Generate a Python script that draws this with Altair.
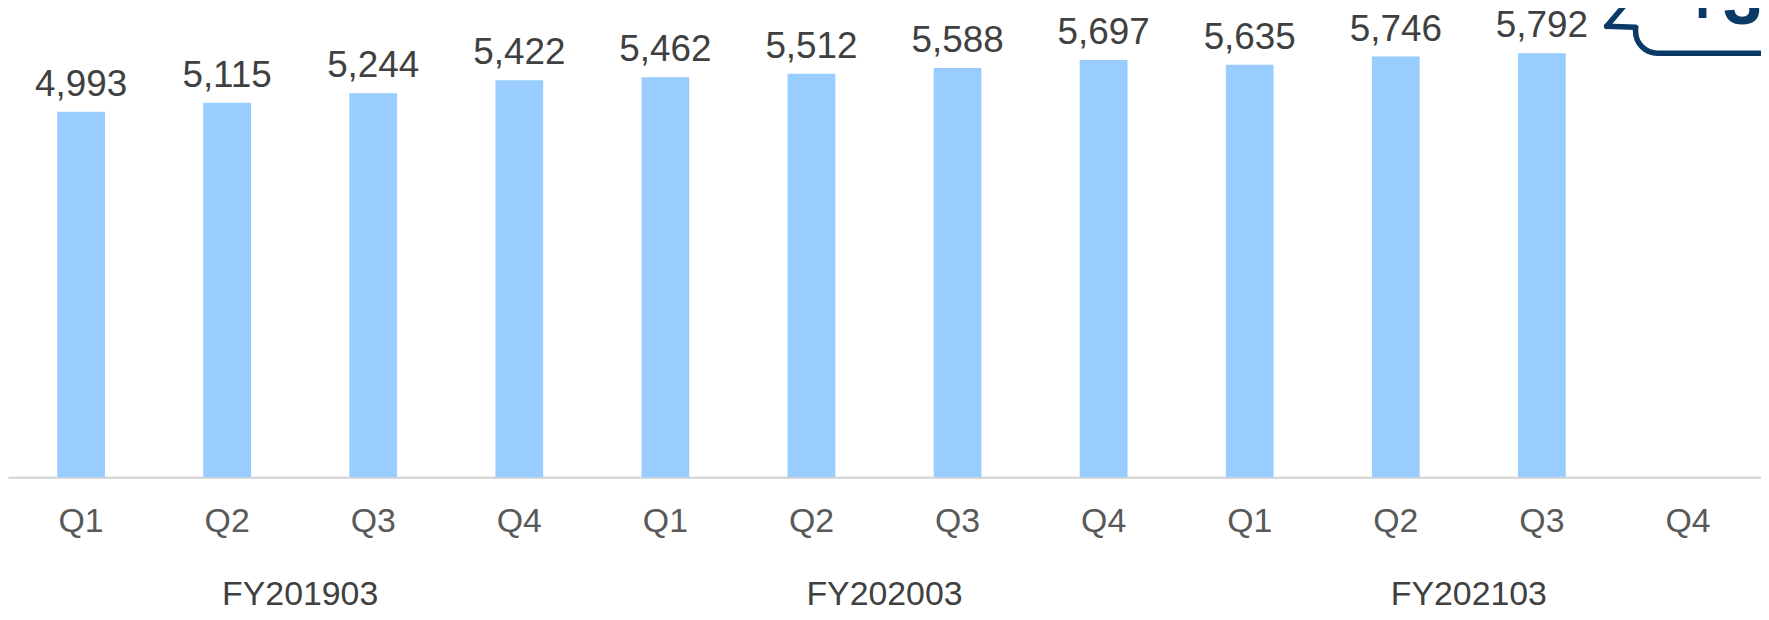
import altair as alt
import pandas as pd

# ---- data ----
fiscal_years = ["FY201903"] * 4 + ["FY202003"] * 4 + ["FY202103"] * 4
quarters = ["Q1", "Q2", "Q3", "Q4"] * 3
values = [4993, 5115, 5244, 5422, 5462, 5512, 5588, 5697, 5635, 5746, 5792, None]
year_labels = ["FY201903", "FY202003", "FY202103"]
callout_text = "+3"

keys = [f"{fy}-{q}" for fy, q in zip(fiscal_years, quarters)]
df = pd.DataFrame({"key": keys, "fy": fiscal_years, "q": quarters, "value": values})
fy_df = pd.DataFrame({"key": [f"{fy}-Q2" for fy in year_labels], "fy": year_labels})
one = pd.DataFrame({"d": [0]})

FONT = "Liberation Sans"
NAVY = "#0c3a66"

xscale = alt.Scale(domain=keys, paddingInner=0, paddingOuter=0)
xaxis = alt.Axis(
    title=None, labelExpr="split(datum.label, '-')[1]", ticks=False, tickSize=0,
    labelPadding=55, labelBaseline="alphabetic", labelFontSize=34, labelFont=FONT,
    labelColor="#595959", domainColor="#d9d9d9", domainWidth=2.5, labelAngle=0,
    grid=False, labelOverlap=False,
)
yscale = alt.Scale(domain=[0, 6390], nice=False, zero=True)

base = alt.Chart(df)
bars = base.mark_bar(color="#99ccff", size=48).encode(
    x=alt.X("key:N", sort=keys, scale=xscale, axis=xaxis),
    y=alt.Y("value:Q", scale=yscale, axis=None),
)
labels = base.transform_filter("isValid(datum.value)").mark_text(
    dy=-16, baseline="alphabetic", fontSize=37, font=FONT, color="#404040"
).encode(
    x=alt.X("key:N", sort=keys),
    y=alt.Y("value:Q"),
    text=alt.Text("value:Q", format=","),
)
fy_text = alt.Chart(fy_df).mark_text(
    baseline="alphabetic", fontSize=34, font=FONT, color="#404040"
).encode(
    x=alt.X("key:N", sort=keys, bandPosition=1),
    y=alt.value(598),
    text="fy:N",
)

# ---- callout bubble (decoration) ----
bubble = alt.Chart(one).mark_rect(
    fill="white", stroke=NAVY, strokeWidth=5.5, cornerRadius=22
).encode(x=alt.value(1635), x2=alt.value(1900), y=alt.value(-100), y2=alt.value(44))
cover = alt.Chart(one).mark_rect(fill="white").encode(
    x=alt.value(1629), x2=alt.value(1642), y=alt.value(-10), y2=alt.value(17)
)
tail1 = alt.Chart(one).mark_rule(color=NAVY, strokeWidth=5.5, strokeCap="round").encode(
    x=alt.value(1606), y=alt.value(17), x2=alt.value(1628), y2=alt.value(-9)
)
tail2 = alt.Chart(one).mark_rule(color=NAVY, strokeWidth=5.5, strokeCap="round").encode(
    x=alt.value(1606), y=alt.value(17), x2=alt.value(1635), y2=alt.value(18)
)
ctext = alt.Chart(one).mark_text(
    align="left", baseline="alphabetic", fontSize=70, fontWeight="bold", font=FONT, color=NAVY
).encode(x=alt.value(1682), y=alt.value(15), text=alt.value(callout_text))

chart = alt.layer(bars, labels, fy_text, bubble, cover, tail1, tail2, ctext).properties(
    width=1761, height=470,
    autosize=alt.AutoSizeParams(type="none"),
    padding={"left": 0, "top": 0, "right": 0, "bottom": 134},
).configure(background="white").configure_view(stroke=None)

chart.save("out.html", embed_options={"renderer": "svg", "actions": False})
